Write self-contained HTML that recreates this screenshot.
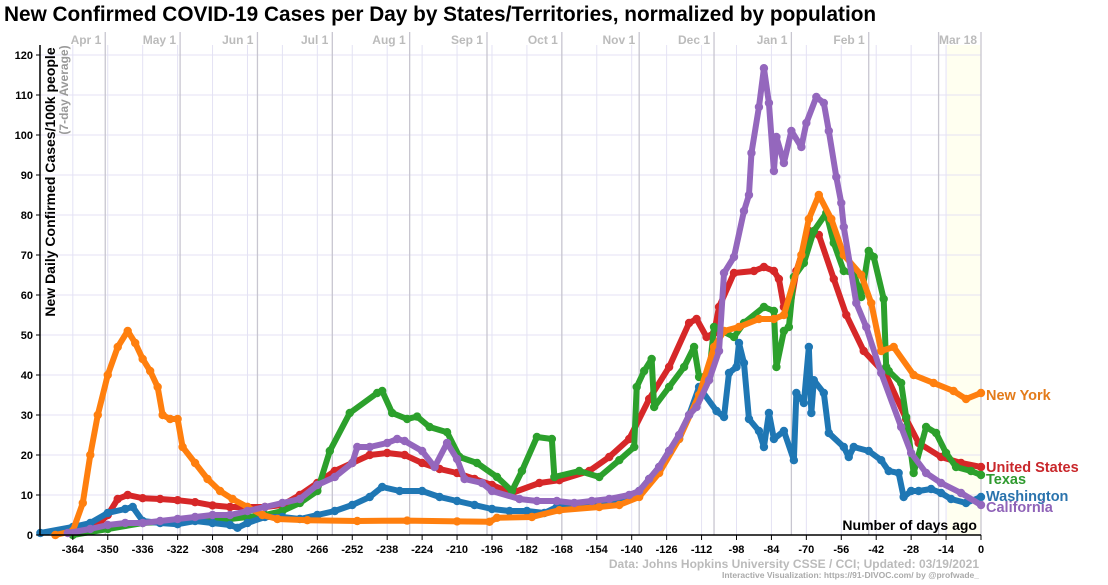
<!DOCTYPE html>
<html><head><meta charset="utf-8"><style>
body{margin:0;background:#fff;font-family:"Liberation Sans",sans-serif}
svg text{font-family:"Liberation Sans",sans-serif;font-weight:bold}
</style></head><body>
<svg id="c" width="1108" height="580" xmlns="http://www.w3.org/2000/svg">
<text x="4" y="21" font-size="20.8" fill="#000">New Confirmed COVID-19 Cases per Day by States/Territories, normalized by population</text>
<rect x="947" y="45" width="34" height="490" fill="#fffff0"/>
<g id="grid"></g><g id="series"></g><g id="axes"></g>
</svg>
<script>
const xTicks=[-364,-350,-336,-322,-308,-294,-280,-266,-252,-238,-224,-210,-196,-182,-168,-154,-140,-126,-112,-98,-84,-70,-56,-42,-28,-14,0];
const yTicks=[0,10,20,30,40,50,60,70,80,90,100,110,120];
const monthLabels=["Apr 1","May 1","Jun 1","Jul 1","Aug 1","Sep 1","Oct 1","Nov 1","Dec 1","Jan 1","Feb 1","","Mar 18"];
const monthDays=[-351,-321,-290,-260,-229,-198,-168,-137,-107,-76,-45,-17,0];

const nyDays=[-371,-364,-360,-357,-354,-350,-346,-342,-339,-336,-333,-330,-328,-325,-322,-320,-315,-310,-305,-300,-294,-288,-282,-270,-250,-230,-210,-197,-194,-180,-169,-153,-145,-137,-129,-121,-113,-107,-103,-97,-89,-83,-79,-72,-69,-65,-60,-55,-48,-44,-40,-35,-27,-19,-11,-6,0];
const nyVals=[0,1,8,20,30,40,47,51,48,44,41,37,30,29,29,22,18,14,11,9,7,5,4,3.7,3.5,3.6,3.4,3.3,4.3,4.5,6.2,7,7.5,9.5,15.5,24,35,47,51,52,54,54,55,70,79,85,79,70,65,58,46,47,40,38,36,34,35.5];

const usDays=[-355,-350,-346,-342,-336,-329,-322,-315,-308,-301,-294,-287,-280,-273,-266,-259,-252,-245,-238,-231,-224,-217,-210,-203,-196,-188,-177,-169,-157,-149,-141,-133,-125,-117,-114,-110,-107,-105,-99,-91,-87,-83,-81,-79,-77,-74,-69,-65,-59,-54,-47,-38,-30,-25,-16,-8,0];
const usVals=[2,5,9,10,9.2,9,8.7,8.2,7.4,7,7,7,7.5,10,13,16,18,20,20.5,20,18,16.5,15.5,14,12.5,10.5,13,13.7,16,19.5,24,34,42,53,54,49.5,50.5,57,65.5,66,67,66,64,57,55,66,76,75,64,55,46,40,29,23,19.5,18,17];

const txDays=[-364,-350,-336,-322,-308,-294,-287,-280,-273,-266,-261,-253,-242,-240,-236,-230,-226,-221,-214,-209,-202,-194,-188,-184,-178,-172,-171,-161,-153,-145,-139,-138,-135,-132,-131,-125,-119,-115,-113,-109,-107,-99,-95,-87,-83,-82,-79,-77,-75,-71,-67,-62,-59,-55,-51,-48,-45,-43,-39,-38,-37,-32,-30,-27,-22,-18,-14,-10,-4,0];
const txVals=[0,1.5,3,3.5,3.5,4.5,5,6,8,11,21,30.5,35.5,36,30.5,29,29.6,27,25.7,19.5,18,14.5,11,16,24.5,24,14.5,16,14.5,18.7,22,37,41,44,32,37,42,47,39.5,40,52,49.5,53,57,56,42,51,52,64.5,68,76,80.5,73,66,65.5,59.5,71,69.5,59,42,41,38,29.5,15.5,27,25.5,20.5,17,16,15];

const waDays=[-377,-364,-357,-350,-343,-340,-336,-329,-322,-315,-308,-301,-298,-294,-287,-280,-273,-266,-259,-252,-245,-240,-233,-224,-217,-210,-203,-196,-189,-182,-175,-170,-161,-153,-145,-141,-137,-133,-129,-125,-121,-117,-113,-106,-103,-101,-98,-97,-95,-93,-89,-87,-85,-83,-79,-75,-74,-71,-69,-68,-67,-63,-61,-55,-53,-51,-45,-40,-37,-33,-31,-28,-25,-20,-16,-12,-6,0];
const waVals=[0.5,2,3,5.5,6.5,7,3.5,3,2.7,3.5,3,2.5,1.8,3,4.5,4.5,4,5,6,7.5,9.5,12,11,11,9.5,8.5,7.5,6.5,6,6,5.5,7,7.5,7.5,8,9.5,11,14,17,21,24,30,37,31,29.5,40.5,42,48,43,29,26,22,30.5,24,26,18.7,35.5,33,47,30.5,38.7,35.5,25.5,22,19.5,22,21,18.7,16,15.5,9.5,11,11,11.5,10.5,9,8,9.5];

const caDays=[-366,-357,-350,-343,-336,-329,-322,-315,-308,-301,-294,-287,-280,-273,-266,-259,-252,-250,-245,-238,-234,-231,-224,-219,-214,-210,-207,-200,-196,-185,-178,-170,-163,-156,-149,-141,-137,-133,-129,-125,-121,-117,-114,-109,-105,-103,-99,-95,-93,-92,-89,-87,-85,-83,-82,-79,-76,-72,-70,-66,-63,-61,-58,-56,-55,-50,-46,-40,-32,-28,-22,-16,-8,0];
const caVals=[0.5,1.5,2.5,3,3,3.5,4,4.5,5,5,6,7,8,9,12.5,14.5,18,22,22,23,24,23.5,21,17,23,19,14,13,11,9,8.5,8.5,8,8.5,9,10,11,14,17,21,25,30,32,38.7,46,65.5,69.5,81,85,95.5,107,116.7,108,91,99.5,93,101,97,103,109.5,108,101,89.5,83,77,58,52,40.5,27,20.5,15.5,13,10.5,7.5];

const X=d=>981+d*2.495, Y=v=>535-v*4;
const NS="http://www.w3.org/2000/svg";
function mk(tag,attrs,parent,text){const e=document.createElementNS(NS,tag);for(const k in attrs)e.setAttribute(k,attrs[k]);if(text!==undefined)e.textContent=text;parent.appendChild(e);return e;}
const grid=document.getElementById('grid'),axes=document.getElementById('axes'),ser=document.getElementById('series');
yTicks.forEach(v=>{
  const l=mk('line',{x1:40,x2:981,y1:Y(v),y2:Y(v),stroke:'#e4e2f4','stroke-width':1},grid);
  
  
  const t=mk('text',{x:33,y:Y(v)+4,'font-size':11,'text-anchor':'end',fill:'#000'},axes,v);
  
  
  mk('line',{x1:36,x2:40,y1:Y(v),y2:Y(v),stroke:'#000'},axes);
});
xTicks.forEach(d=>{
  const l=mk('line',{x1:X(d),x2:X(d),y1:45,y2:535,stroke:'#e4e2f4','stroke-width':1},grid);
  
  
  const t=mk('text',{x:X(d),y:553,'font-size':11,'text-anchor':'middle',fill:'#000'},axes,d);
  
  
  mk('line',{x1:X(d),x2:X(d),y1:535,y2:540,stroke:'#000'},axes);
});
monthDays.forEach((d,i)=>{
  const l=mk('line',{x1:X(d),x2:X(d),y1:32,y2:535,stroke:'#c8c6d0','stroke-width':1.3},grid);
  
  
  if(monthLabels[i]){
    const t=mk('text',{x:X(d)-4,y:44,'font-size':12,'text-anchor':'end',fill:'#bbb'},grid,monthLabels[i]);
    
    
  }
});
mk('line',{x1:40,x2:40,y1:45,y2:535,stroke:'#000','stroke-width':1.5},axes);
mk('line',{x1:40,x2:981,y1:535,y2:535,stroke:'#000','stroke-width':1.5},axes);
const series=[
 {n:'us',d:usDays,v:usVals,c:'#d62728'},
 {n:'texas',d:txDays,v:txVals,c:'#2ca02c'},
 {n:'washington',d:waDays,v:waVals,c:'#1f77b4'},
 {n:'new-york',d:nyDays,v:nyVals,c:'#ff7f0e'},
 {n:'california',d:caDays,v:caVals,c:'#9467bd'}];
series.forEach(s=>{
  const g=mk('g',{},ser);
  
  
  const pts=s.d.map((d,i)=>X(d)+','+Y(s.v[i])).join(' ');
  mk('polyline',{points:pts,fill:'none',stroke:s.c,'stroke-width':6,'stroke-linejoin':'round','stroke-linecap':'round'},g);
  s.d.forEach((d,i)=>{
    const c=mk('circle',{cx:X(d),cy:Y(s.v[i]),r:4.2,fill:s.c},g);
    
    
  });
});
const labels=[['New York','#e37b1a',400],['United States','#c9272b',472],['Texas','#2f9a2f',484],['Washington','#2a73ad',501],['California','#8f63b8',512]];
labels.forEach(l=>{
  const t=mk('text',{x:986,y:l[2],'font-size':14.5,fill:l[1]},axes,l[0]);
  
  
});
</script>
<svg style="position:absolute;left:0;top:0" width="1108" height="580" xmlns="http://www.w3.org/2000/svg">
<text transform="translate(55,182) rotate(-90)" text-anchor="middle" font-size="14" fill="#000" font-family="Liberation Sans" font-weight="bold">New Daily Confirmed Cases/100k people</text>
<text transform="translate(68,90) rotate(-90)" text-anchor="middle" font-size="12" fill="#999" font-family="Liberation Sans" font-weight="bold">(7-day Average)</text>
<text x="977" y="530" text-anchor="end" font-size="14" fill="#000" font-family="Liberation Sans" font-weight="bold">Number of days ago</text>
<text x="979" y="568" text-anchor="end" font-size="12" fill="#bbb" font-family="Liberation Sans" font-weight="bold">Data: Johns Hopkins University CSSE / CCI; Updated: 03/19/2021</text>
<text x="979" y="578" text-anchor="end" font-size="8.5" fill="#aaa" font-family="Liberation Sans">Interactive Visualization: https://91-DIVOC.com/ by @profwade_</text>
</svg>
</body></html>
